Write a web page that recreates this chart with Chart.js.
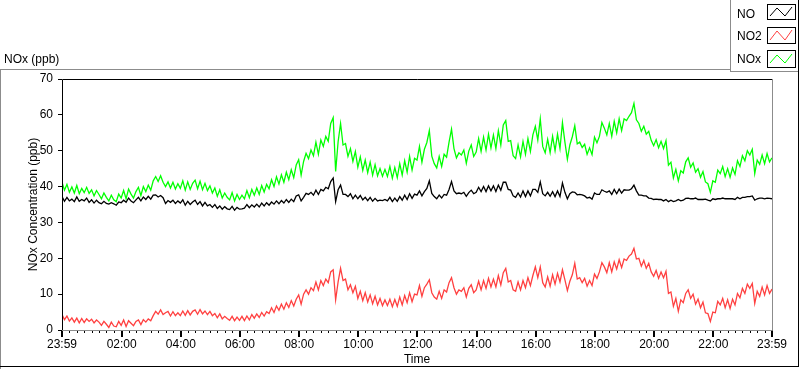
<!DOCTYPE html>
<html>
<head>
<meta charset="utf-8">
<title>NOx (ppb)</title>
<script src="https://cdn.jsdelivr.net/npm/chart.js@4.4.1/dist/chart.umd.min.js"></script>
<style>
  body { margin: 0; background: #fff; font-family: "Liberation Sans", Arial, sans-serif; }
  #wrap { position: relative; width: 800px; height: 369px; overflow: hidden; }
  #plot { position: absolute; left: 0; top: 0; }
  .lbl { position: absolute; font-size: 12px; line-height: 14px; color: #000; white-space: nowrap; }
  .ln { position: absolute; }
  .sw { position: absolute; }
</style>
</head>
<body>
<div id="wrap">
  <canvas id="plot" width="800" height="369"></canvas>
  <div class="lbl" style="left:4px;top:52px">NOx (ppb)</div>
  <!-- control frame -->
  <div class="ln" style="left:0;top:69px;width:730px;height:1px;background:#8c8c8c"></div>
  <div class="ln" style="left:0;top:69px;width:1px;height:300px;background:#8c8c8c"></div>
  <div class="ln" style="left:798px;top:0;width:1px;height:367px;background:#000"></div>
  <div class="ln" style="left:0;top:366px;width:799px;height:1px;background:#000"></div>
  <!-- legend -->
  <div class="ln" style="left:730px;top:0;width:1px;height:72px;background:#8c8c8c"></div>
  <div class="ln" style="left:730px;top:71px;width:68px;height:1px;background:#8c8c8c"></div>
  <div class="lbl" style="left:737px;top:7px">NO</div>
  <div class="lbl" style="left:737px;top:29px">NO2</div>
  <div class="lbl" style="left:737px;top:52px">NOx</div>
  <svg class="sw" style="left:767px;top:4px" width="29" height="16"><rect x="0.5" y="0.5" width="28" height="15" fill="#fff" stroke="#000"/><polyline points="3,12 10,4 18,12 25,3" fill="none" stroke="#000"/></svg>
  <svg class="sw" style="left:767px;top:27px" width="29" height="17"><rect x="0.5" y="0.5" width="28" height="16" fill="#fff" stroke="#000"/><polyline points="3,13 10,4 18,13 25,3" fill="none" stroke="#ff4040"/></svg>
  <svg class="sw" style="left:767px;top:50px" width="29" height="18"><rect x="0.5" y="0.5" width="28" height="17" fill="#fff" stroke="#000"/><polyline points="3,13 10,5 18,13 25,4" fill="none" stroke="#00ff00"/></svg>
</div>
<script>
// 5 minute readings from 23:59 to 23:59
var STEP_MIN = 5;

var NO = [
  37.2,35.9,37.0,36.0,36.5,35.8,37.1,35.9,36.4,36.0,36.8,35.6,
  36.3,35.4,36.2,35.5,35.2,35.9,35.3,35.1,35.5,35.2,34.8,35.7,
  35.5,36.2,35.6,36.8,36.0,35.5,36.3,37.0,36.0,37.1,36.4,37.3,
  36.5,37.6,37.7,37.1,37.5,36.9,35.3,36.1,35.6,36.2,35.3,36.0,
  35.4,36.3,34.8,35.9,35.0,35.7,36.2,35.0,35.8,34.6,35.6,34.6,
  35.0,34.2,35.0,33.9,34.6,33.7,34.4,33.8,33.6,34.5,33.4,34.2,
  33.7,33.8,34.0,35.0,34.1,34.9,34.3,35.1,34.3,35.4,34.6,35.5,
  34.8,35.7,35.1,36.0,35.2,36.1,35.4,36.4,35.6,36.5,35.8,37.4,
  37.7,36.0,37.0,38.1,37.8,38.4,37.6,39.0,37.8,39.2,38.8,39.8,
  39.4,41.4,42.4,35.8,39.1,40.4,37.8,37.8,37.2,38.0,36.6,37.6,
  36.6,37.5,36.3,37.0,36.1,37.0,35.9,36.7,36.0,36.2,36.1,36.4,
  36.0,37.0,35.8,36.8,35.9,37.2,36.2,37.6,36.4,38.0,36.7,37.9,
  37.6,38.8,37.4,38.6,39.5,41.6,38.1,37.2,36.6,37.6,36.8,37.8,
  37.6,39.2,41.4,38.8,38.0,38.2,38.0,38.4,37.3,38.3,39.0,38.0,
  38.4,39.8,38.6,40.0,38.6,40.2,38.8,40.2,38.6,40.4,39.0,41.2,
  41.2,39.2,39.0,37.4,37.0,38.2,37.1,38.8,37.2,38.8,37.4,39.2,
  39.2,38.4,41.3,38.0,37.4,38.4,37.3,38.6,37.2,38.8,37.2,41.0,
  38.4,36.6,38.0,38.5,38.4,37.7,37.8,37.7,37.4,36.8,37.0,36.5,
  38.2,37.8,37.8,39.1,38.7,38.4,38.8,37.8,39.2,38.0,39.3,38.2,
  39.1,39.0,39.0,39.4,40.4,38.8,37.6,37.6,37.4,37.4,36.8,36.7,
  36.4,36.5,36.4,36.4,36.0,36.4,35.8,36.2,35.8,36.0,36.4,36.0,
  36.2,36.7,36.8,36.6,36.6,36.8,36.4,36.4,36.4,36.5,36.2,36.0,
  36.6,36.4,36.6,36.6,36.8,36.6,36.6,36.6,36.6,36.4,37.0,36.6,
  37.0,37.0,37.2,37.2,37.4,36.2,36.6,36.8,36.8,36.6,36.8,36.7,36.6
];

var NO2 = [
  4.3,2.9,3.9,2.5,3.4,2.2,3.3,2.0,3.2,2.1,3.1,2.4,
  3.0,2.0,2.8,2.2,1.3,2.4,1.6,0.7,2.2,1.1,0.9,2.4,
  1.3,2.8,1.0,2.6,1.9,1.2,2.4,2.8,1.5,2.9,2.2,3.1,
  2.6,4.0,5.2,4.4,5.6,4.3,4.8,5.2,3.9,5.1,4.0,4.8,
  4.0,5.3,4.1,5.4,4.2,5.2,5.6,4.4,5.7,4.5,5.3,4.3,
  5.2,4.0,4.6,3.4,4.5,3.1,3.8,3.2,2.7,3.8,2.6,3.6,
  2.7,3.8,2.6,3.9,2.8,4.3,3.3,4.5,3.5,4.9,3.9,5.1,
  4.6,6.2,4.9,6.7,5.5,7.2,5.8,7.6,6.3,8.2,6.7,8.6,
  9.8,7.2,10.0,11.2,10.0,11.8,11.0,13.4,11.2,13.8,12.4,14.2,
  13.2,16.2,16.8,8.4,13.4,17.2,13.8,14.2,11.2,12.6,10.4,12.2,
  8.8,10.8,8.2,10.4,7.8,9.8,7.3,9.4,7.0,8.8,6.8,8.4,
  6.8,8.6,6.5,8.5,6.6,9.2,7.0,9.6,7.6,10.4,7.9,10.0,
  9.8,12.4,9.4,11.8,12.8,14.0,10.4,9.2,8.6,10.8,8.8,11.2,
  10.6,13.2,14.6,11.8,10.0,11.2,10.8,11.8,9.2,11.6,12.6,10.4,
  11.2,13.6,11.2,13.8,11.6,14.4,12.0,14.2,12.0,15.2,12.6,16.0,
  17.2,13.4,13.8,11.2,10.8,13.4,11.2,13.8,11.8,14.6,12.4,15.2,
  17.6,14.6,17.6,13.2,12.0,14.8,12.2,15.4,12.8,15.8,13.4,16.8,
  14.0,11.0,13.6,15.4,18.6,14.2,14.6,13.2,14.4,12.2,13.8,12.4,
  15.6,14.4,16.2,18.8,17.6,16.0,18.8,16.2,19.0,17.0,19.6,17.4,
  19.8,19.4,20.6,21.2,22.8,19.8,20.0,17.8,19.4,17.2,18.6,16.2,
  15.0,16.6,14.4,16.2,14.6,16.4,10.2,10.6,6.6,8.8,5.2,8.4,
  7.6,10.2,11.2,8.8,10.0,7.2,8.6,6.2,7.8,4.8,4.6,2.4,
  5.0,4.8,8.0,7.0,8.8,6.2,8.4,6.0,8.6,7.0,10.2,9.0,
  11.6,10.2,12.8,11.6,13.0,7.4,10.8,9.4,12.0,9.8,12.4,10.2,11.4
];

var NOx = [
  41.2,39.0,40.6,38.4,39.9,38.2,40.3,38.0,39.5,38.3,39.8,38.1,
  39.1,37.4,38.9,37.8,36.6,38.2,37.0,36.0,37.6,36.3,35.8,37.9,
  36.8,38.9,36.6,39.3,37.9,36.8,38.6,39.8,37.5,40.0,38.6,40.4,
  39.0,41.6,42.8,41.4,43.0,41.2,40.0,41.3,39.6,41.2,39.3,40.8,
  39.5,41.6,39.0,41.3,39.2,40.9,41.8,39.4,41.5,39.1,40.9,38.9,
  40.2,38.2,39.6,37.3,39.1,36.8,38.2,37.0,36.3,38.3,36.0,37.8,
  36.4,37.6,36.6,38.9,36.9,39.2,37.6,39.6,37.8,40.3,38.5,40.6,
  39.4,41.9,40.0,42.7,40.7,43.3,41.2,44.0,41.9,44.7,42.5,46.0,
  47.5,43.2,47.0,49.3,47.8,50.2,48.6,52.4,49.0,53.0,51.2,54.0,
  52.6,57.6,59.2,44.2,52.5,57.6,51.6,52.0,48.4,50.6,47.0,49.8,
  45.4,48.3,44.5,47.4,43.9,46.8,43.2,46.1,43.0,45.0,42.9,44.8,
  42.8,45.6,42.3,45.3,42.5,46.4,43.2,47.2,44.0,48.4,44.6,47.9,
  47.4,51.2,46.8,50.4,52.3,55.6,48.5,46.4,45.2,48.4,45.6,49.0,
  48.2,52.4,56.0,50.6,48.0,49.4,48.8,50.2,46.5,49.9,51.6,48.4,
  49.6,53.4,49.8,53.8,50.2,54.6,50.8,54.4,50.6,55.6,51.6,57.2,
  58.4,52.6,52.8,48.6,47.8,51.6,48.3,52.6,49.0,53.4,49.8,54.4,
  56.8,53.0,58.9,51.2,49.4,53.2,49.5,54.0,50.0,54.6,50.6,57.8,
  52.4,47.6,51.6,53.9,57.0,51.9,52.4,50.9,51.8,49.0,50.8,48.9,
  53.8,52.2,54.0,57.9,56.3,54.4,57.6,54.0,58.2,55.0,58.9,55.6,
  58.9,58.4,59.6,60.6,63.2,58.6,57.6,55.4,56.8,54.6,55.4,52.9,
  51.4,53.1,50.8,52.6,50.6,52.8,46.0,46.8,42.4,44.8,41.6,44.4,
  43.8,46.9,48.0,45.4,46.6,44.0,45.0,42.6,44.2,41.3,40.8,38.4,
  41.6,41.2,44.6,43.6,45.6,42.8,45.0,42.6,45.2,43.4,47.2,45.6,
  48.6,47.2,50.0,48.8,50.4,43.6,47.4,46.2,48.8,46.4,49.2,46.9,48.0
];

// axis: minutes after 23:59, ticks every 15 min on the clock, labels every 2 h
var SPAN_MIN = 1440;
var START_CLOCK = 23 * 60 + 59;
var yTicks = [0, 10, 20, 30, 40, 50, 60, 70];
var xTicks = [0];
for (var k = 1; k <= 95; k++) xTicks.push(1 + k * 15);
xTicks.push(SPAN_MIN);
var majorTicks = xTicks.filter(function (v) { return v === 0 || v === SPAN_MIN || (v - 1) % 120 === 0 && v > 1; });

function clock(v) {
  var m = (START_CLOCK + v) % 1440;
  var h = Math.floor(m / 60), mm = m % 60;
  return (h < 10 ? '0' : '') + h + ':' + (mm < 10 ? '0' : '') + mm;
}

function pts(arr) {
  return arr.map(function (v, i) { return { x: i * STEP_MIN, y: v }; });
}

var frame = {
  id: 'frame',
  afterDraw: function (chart) {
    var ctx = chart.ctx, a = chart.chartArea, xs = chart.scales.x;
    ctx.save();
    ctx.lineWidth = 1;
    ctx.strokeStyle = '#000';
    ctx.beginPath();
    ctx.moveTo(a.left + 0.5, a.bottom);
    ctx.lineTo(a.left + 0.5, a.top + 0.5);
    ctx.lineTo(a.right, a.top + 0.5);
    ctx.stroke();
    ctx.strokeStyle = '#8c8c8c';
    ctx.beginPath();
    ctx.moveTo(a.right + 0.5, a.top);
    ctx.lineTo(a.right + 0.5, a.bottom + 0.5);
    ctx.lineTo(a.left, a.bottom + 0.5);
    ctx.stroke();
    ctx.strokeStyle = '#000';
    ctx.lineWidth = 2;
    ctx.beginPath();
    majorTicks.forEach(function (v) {
      var px = Math.round(xs.getPixelForValue(v));
      ctx.moveTo(px, a.bottom + 1);
      ctx.lineTo(px, a.bottom + 7);
    });
    ctx.stroke();
    ctx.restore();
  }
};

Chart.defaults.font.family = '"Liberation Sans", Arial, sans-serif';
Chart.defaults.font.size = 12;
Chart.defaults.color = '#000';

new Chart(document.getElementById('plot').getContext('2d'), {
  type: 'line',
  data: {
    datasets: [
      { label: 'NO', data: pts(NO), borderColor: '#000000' },
      { label: 'NO2', data: pts(NO2), borderColor: '#ff4040' },
      { label: 'NOx', data: pts(NOx), borderColor: '#00ff00' }
    ]
  },
  options: {
    responsive: false,
    animation: false,
    devicePixelRatio: 1,
    layout: { padding: { left: 0, top: 79, right: 28, bottom: 0 } },
    elements: {
      point: { radius: 0 },
      line: { borderWidth: 1.3, tension: 0 }
    },
    plugins: { legend: { display: false }, tooltip: { enabled: false } },
    scales: {
      x: {
        type: 'linear',
        min: 0,
        max: SPAN_MIN,
        afterFit: function (s) { s.height = 39; },
        afterBuildTicks: function (s) {
          s.ticks = xTicks.map(function (v) { return { value: v }; });
        },
        ticks: {
          autoSkip: false,
          maxRotation: 0,
          padding: 4,
          callback: function (v) { return majorTicks.indexOf(v) >= 0 ? clock(v) : ''; }
        },
        grid: { drawOnChartArea: false, tickLength: 3, tickColor: '#000' },
        border: { display: false },
        title: { display: true, text: 'Time', padding: { top: 0, bottom: 2 } }
      },
      y: {
        min: 0,
        max: 70,
        afterFit: function (s) { s.width = 62; },
        afterBuildTicks: function (s) {
          s.ticks = yTicks.map(function (v) { return { value: v }; });
        },
        ticks: { padding: 5 },
        grid: { drawOnChartArea: false, tickLength: 4, tickColor: '#000' },
        border: { display: false },
        title: { display: true, text: 'NOx Concentration (ppb)', padding: { top: 26, bottom: 0 } }
      }
    }
  },
  plugins: [frame]
});
</script>
</body>
</html>
